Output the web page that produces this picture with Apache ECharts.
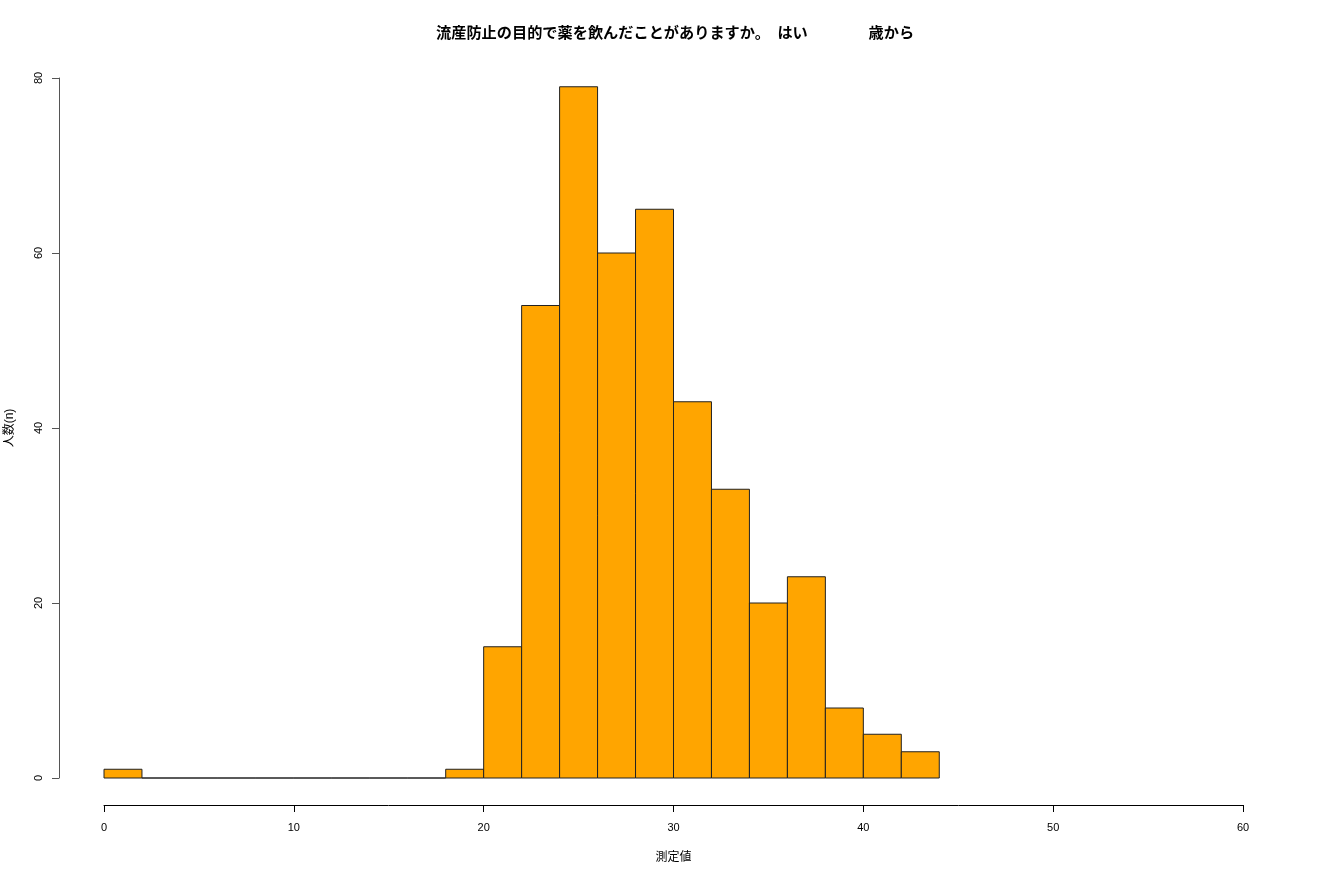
<!DOCTYPE html>
<html><head><meta charset="utf-8">
<script src="https://cdn.jsdelivr.net/npm/echarts@6/dist/echarts.min.js"></script>
<style>html,body{margin:0;padding:0;background:#fff}#c{width:1320px;height:880px}</style>
</head><body><div id="c"></div>
<script>
const binStarts = [0,2,4,6,8,10,12,14,16,18,20,22,24,26,28,30,32,34,36,38,40,42];
const binWidth = 2;
const counts = [1,0,0,0,0,0,0,0,0,1,15,54,79,60,65,43,33,20,23,8,5,3];
const xTicks = [0,10,20,30,40,50,60];
const yTicks = [0,20,40,60,80];
const titleText = '流産防止の目的で薬を飲んだことがありますか。　はい　　　　歳から';
const xName = '測定値';
const yName = '人数(n)';

const FONT = '"Liberation Sans", "Noto Sans CJK JP", sans-serif';
const data = binStarts.map((s, i) => [s, s + binWidth, counts[i]]);
const xMin = xTicks[0], xMax = xTicks[xTicks.length - 1];
const yMin = yTicks[0], yMax = yTicks[yTicks.length - 1];
const labelStyle = {fontFamily: FONT, fontSize: 11, color: '#000'};

const chart = echarts.init(document.getElementById('c'), null, {renderer: 'canvas'});
chart.setOption({
  animation: false,
  backgroundColor: '#fff',
  title: {
    text: titleText, left: 431, top: 20,
    textStyle: {fontFamily: '"Noto Sans CJK JP", sans-serif', fontSize: 15.2, fontWeight: 'bold', color: '#000'}
  },
  grid: [
    {left: 104, right: 77, top: 78, bottom: 102, containLabel: false, outerBoundsMode: 'none'},
    {left: 104, right: 77, top: 804, height: 1, containLabel: false, outerBoundsMode: 'none'},
    {left: 59, width: 1, top: 78, bottom: 102, containLabel: false, outerBoundsMode: 'none'}
  ],
  xAxis: [
    {gridIndex: 0, type: 'value', min: xMin, max: xMax, interval: 10, show: false},
    {gridIndex: 1, type: 'value', min: xMin, max: xMax, interval: 10, position: 'bottom',
     name: xName, nameLocation: 'middle', nameGap: 47,
     nameTextStyle: {fontFamily: FONT, fontSize: 12, color: '#000'},
     axisLine: {show: true, onZero: false, lineStyle: {color: '#000', width: 1}},
     axisTick: {show: true, length: 7, lineStyle: {color: '#000'}},
     axisLabel: Object.assign({margin: 17}, labelStyle), splitLine: {show: false}},
    {gridIndex: 2, type: 'value', min: 0, max: 1, show: false}
  ],
  yAxis: [
    {gridIndex: 0, type: 'value', min: yMin, max: yMax, interval: 20, show: false},
    {gridIndex: 1, type: 'value', min: 0, max: 1, show: false},
    {gridIndex: 2, type: 'value', min: yMin, max: yMax, interval: 20, position: 'left',
     name: yName, nameLocation: 'middle', nameGap: 43, nameRotate: 90,
     nameTextStyle: {fontFamily: FONT, fontSize: 12, color: '#000'},
     axisLine: {show: true, onZero: false, lineStyle: {color: '#555', width: 1}},
     axisTick: {show: true, length: 7, lineStyle: {color: '#555'}},
     axisLabel: Object.assign({rotate: 90, margin: 15}, labelStyle),
     splitLine: {show: false}}
  ],
  series: [{
    type: 'custom',
    xAxisIndex: 0, yAxisIndex: 0,
    data: data,
    encode: {x: [0, 1], y: 2},
    renderItem: function (params, api) {
      const p0 = api.coord([api.value(0), api.value(2)]);
      const p1 = api.coord([api.value(1), 0]);
      return {
        type: 'rect',
        shape: {x: p0[0], y: p0[1], width: p1[0] - p0[0], height: p1[1] - p0[1]},
        style: {fill: '#FFA500', stroke: '#222', lineWidth: 1}
      };
    }
  }]
});
</script></body></html>
